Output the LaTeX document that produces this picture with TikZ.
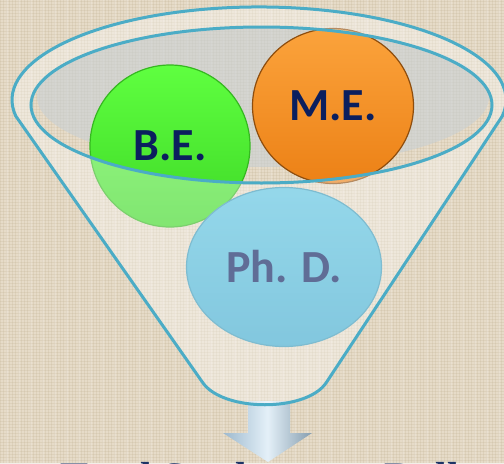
\documentclass[tikz,border=0pt]{standalone}
\usepackage{fontspec}
\setmainfont{Liberation Serif}
\newfontfamily\labelfont{Carlito}
\usetikzlibrary{shapes.geometric}

\definecolor{linen}{HTML}{E6DBC8}
\definecolor{linenline}{HTML}{B9A684}
\definecolor{rimblue}{HTML}{4BACC6}
\definecolor{rimgrey}{HTML}{C8D0D4}
\definecolor{greentop}{HTML}{5FFF40}
\definecolor{greenbot}{HTML}{3ED826}
\definecolor{orangetop}{HTML}{FBA33C}
\definecolor{orangebot}{HTML}{EC8116}
\definecolor{bluetop}{HTML}{5CC3E0}
\definecolor{bluebot}{HTML}{40AACD}
\definecolor{textnavy}{HTML}{0B1F5E}
\definecolor{captionnavy}{HTML}{1D3466}
\definecolor{arrowlight}{HTML}{E4F0F8}
\definecolor{arrowedge}{HTML}{9DB9CE}

\begin{document}
\begin{tikzpicture}[
    x=0.5pt, y=0.5pt,
    ball/.style={ellipse, inner sep=0pt, line width=0.6pt, text=textnavy,
        font=\labelfont\bfseries\fontsize{23}{23}\selectfont},
    glass/.style={fill=white, fill opacity=0.35, draw=rimblue, line width=1.5pt, even odd rule}
]
    \useasboundingbox (0,0) rectangle (504,463);
    \clip (0,0) rectangle (504,463);

    % --- Linen background ---
    \fill[linen] (0,0) rectangle (504,463);
    \foreach \x in {0,3,...,504}
        \draw[linenline, line width=0.3pt, opacity=0.18] (\x,0) -- (\x,463);
    \foreach \y in {0,3,...,463}
        \draw[linenline, line width=0.3pt, opacity=0.18] (0,\y) -- (504,\y);
    \foreach \x in {7,19,...,504}
        \draw[white, line width=0.8pt, opacity=0.15] (\x,0) -- (\x,463);

    % --- Rim interior ---
    \fill[rimgrey, opacity=0.6] (263,366) ellipse [x radius=226, y radius=70];

    % --- Degree discs ---
    \node[ball, minimum width=80pt, minimum height=81pt, top color=greentop, bottom color=greenbot, draw=greenbot!85!black] (be) at (170,317) {B.E.};
    \node[ball, minimum width=80.5pt, minimum height=77.5pt, top color=orangetop, bottom color=orangebot, draw=orangebot!60!black] (me) at (333,357) {M.E.};
    \node[ball, minimum width=97.5pt, minimum height=79.5pt, top color=bluetop, bottom color=bluebot, draw=bluebot!90!black] (phd) at (284,196) {Ph. D.};

    % --- Down arrow ---
    \shade[left color=arrowedge, right color=arrowedge!85!black, middle color=arrowlight]
        (248,62) -- (290,62) -- (290,30) -- (312,30) -- (268,1) -- (223,30) -- (248,30) -- cycle;

    % --- Funnel ---
    \path[glass] (15.8,346.9) arc[start angle=190, end angle=-10, x radius=247, y radius=93]
        -- (326,80) .. controls (306,51) and (224,51) .. (203,80) -- cycle
        (261.5,358) ellipse [x radius=230.5, y radius=78];

    % --- Caption ---
    \node[anchor=base west, inner sep=0pt, text=captionnavy, font=\bfseries\fontsize{21}{21}\selectfont] (total) at (60,-28) {Total Students on Rolls};
\end{tikzpicture}
\end{document}
